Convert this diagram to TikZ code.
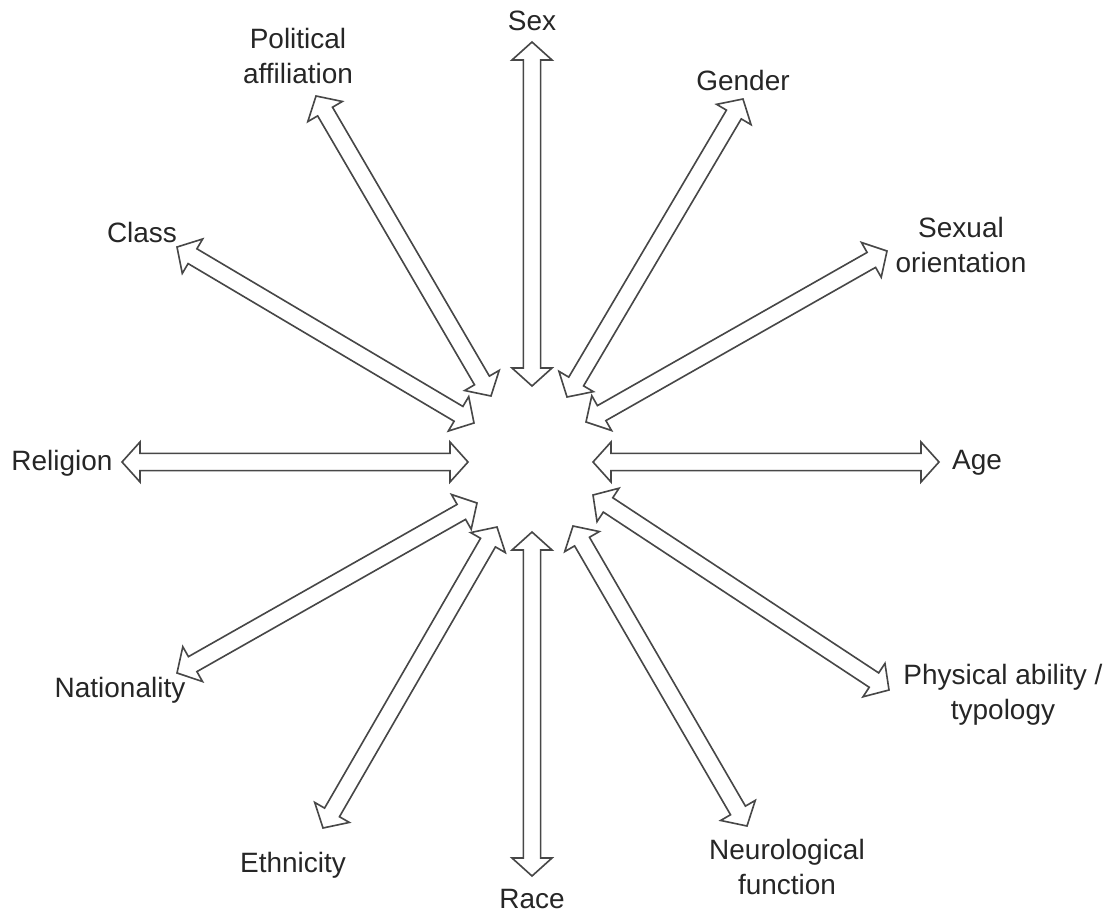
\documentclass[tikz,border=0pt]{standalone}
\usepackage{fontspec}
\setmainfont{Liberation Sans}
\usetikzlibrary{calc}
\tikzset{
  item/.style={align=center, inner sep=0pt, text=black!85, font=\fontsize{19.9}{24.9}\selectfont},
  twoway/.style={draw=black!72, line width=1.15pt, fill=white, line join=miter},
}
\newcommand{\headlen}{0.45cm}
\newcommand{\headwd}{0.5cm}
\newcommand{\shaftwd}{0.215cm}
\newcommand{\dblarrow}[2]{%
  \draw[twoway] (#1)
    -- ($(#1)!\headlen!(#2)!\headwd!90:(#2)$)
    -- ($(#1)!\headlen!(#2)!\shaftwd!90:(#2)$)
    -- ($(#2)!\headlen!(#1)!\shaftwd!-90:(#1)$)
    -- ($(#2)!\headlen!(#1)!\headwd!-90:(#1)$)
    -- (#2)
    -- ($(#2)!\headlen!(#1)!\headwd!90:(#1)$)
    -- ($(#2)!\headlen!(#1)!\shaftwd!90:(#1)$)
    -- ($(#1)!\headlen!(#2)!\shaftwd!-90:(#2)$)
    -- ($(#1)!\headlen!(#2)!\headwd!-90:(#2)$)
    -- cycle;}

\begin{document}
\begin{tikzpicture}[x=0.025cm, y=-0.025cm]
\useasboundingbox (0,0) rectangle (1111,915);
\node[item] (sex) at (532,21) {Sex};
\node[item] (polit) at (298,56) {Political\\affiliation};
\node[item] (gender) at (743,80) {Gender};
\node[item] (sexor) at (961,245) {Sexual\\orientation};
\node[item] (class) at (142,232) {Class};
\node[item] (relig) at (62,463) {Religion};
\node[item] (age) at (977,463) {Age};
\node[item] (natio) at (120,690) {Nationality};
\node[item] (ethn) at (293,865) {Ethnicity};
\node[item] (race) at (532,899) {Race};
\node[item] (neuro) at (787,867) {Neurological\\function};
\node[item] (phys) at (1003,695) {Physical ability /\\typology};

\coordinate (sex-in) at (532,386);   \coordinate (sex-out) at (532,42);
\coordinate (gender-in) at (567,397); \coordinate (gender-out) at (743,99);
\coordinate (sexor-in) at (586,422);  \coordinate (sexor-out) at (887,251);
\coordinate (age-in) at (593,462);    \coordinate (age-out) at (939,462);
\coordinate (phys-in) at (593,495);   \coordinate (phys-out) at (889,690);
\coordinate (neuro-in) at (573,526);  \coordinate (neuro-out) at (747,826);
\coordinate (race-in) at (532,532);   \coordinate (race-out) at (532,876);
\coordinate (ethn-in) at (497,527);   \coordinate (ethn-out) at (323,828);
\coordinate (natio-in) at (477,503);  \coordinate (natio-out) at (177,673);
\coordinate (relig-in) at (468,462);  \coordinate (relig-out) at (122,462);
\coordinate (class-in) at (474,423);  \coordinate (class-out) at (177,247);
\coordinate (polit-in) at (491,396);  \coordinate (polit-out) at (316,96);

\dblarrow{sex-in}{sex-out}
\dblarrow{gender-in}{gender-out}
\dblarrow{sexor-in}{sexor-out}
\dblarrow{age-in}{age-out}
\dblarrow{phys-in}{phys-out}
\dblarrow{neuro-in}{neuro-out}
\dblarrow{race-in}{race-out}
\dblarrow{ethn-in}{ethn-out}
\dblarrow{natio-in}{natio-out}
\dblarrow{relig-in}{relig-out}
\dblarrow{class-in}{class-out}
\dblarrow{polit-in}{polit-out}
\end{tikzpicture}
\end{document}
